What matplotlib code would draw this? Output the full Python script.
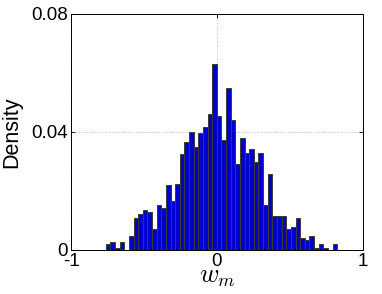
import numpy as np
import matplotlib
matplotlib.use("Agg")
import matplotlib.pyplot as plt

plt.rcParams['font.family'] = ['Liberation Sans', 'DejaVu Sans']
plt.rcParams['mathtext.fontset'] = 'cm'

# histogram of w_m, values per bin
bin_start = -0.762
bin_width = 0.0317
heights = [0.0019, 0.0026, 0.0006, 0.0026, 0.0,
           0.0049, 0.0108, 0.0121, 0.0137, 0.0130,
           0.0071, 0.0151, 0.0144, 0.0219, 0.0167,
           0.0225, 0.0327, 0.0365, 0.0401, 0.0350,
           0.0395, 0.0417, 0.0461, 0.0631, 0.0453,
           0.0373, 0.0550, 0.0440, 0.0292, 0.0380,
           0.0329, 0.0343, 0.0299, 0.0329, 0.0152,
           0.0256, 0.0114, 0.0114, 0.0114, 0.0071,
           0.0078, 0.0108, 0.0042, 0.0035, 0.0049,
           0.0006, 0.0019, 0.0006, 0.0, 0.0019]
xticks = [-1, 0, 1]
yticks = [0, 0.04, 0.08]
yticklabels = ['0', '0.04', '0.08']

lefts = bin_start + bin_width * np.arange(len(heights))

fig = plt.figure(figsize=(3.82, 2.94), dpi=100)
ax = fig.add_axes([71 / 382, 44 / 294, 292 / 382, 236 / 294])
ax.bar(lefts, heights, width=bin_width, align='edge',
       color='#0000cc', edgecolor='#3a3a3a', linewidth=0.7, zorder=3)

ax.set_xlim(-1, 1)
ax.set_ylim(0, 0.08)
ax.set_xticks(xticks)
ax.set_xticklabels([str(t) for t in xticks])
ax.set_yticks(yticks)
ax.set_yticklabels(yticklabels)
ax.tick_params(direction='in', top=True, right=True, labelsize=13.5,
               length=3, width=0.6, pad=2)
ax.grid(True, linestyle=':', color='#bbbbbb', linewidth=0.7, zorder=0)
for s in ax.spines.values():
    s.set_linewidth(0.7)

ax.set_ylabel('Density', fontsize=15.5)
ax.yaxis.set_label_coords(-49 / 292, 0.5)
ax.set_xlabel('$w_m$', fontsize=19)
ax.xaxis.set_label_coords(0.5, -33 / 236)
ax.xaxis.label.set_va('baseline')

fig.savefig('out.png', dpi=100)
